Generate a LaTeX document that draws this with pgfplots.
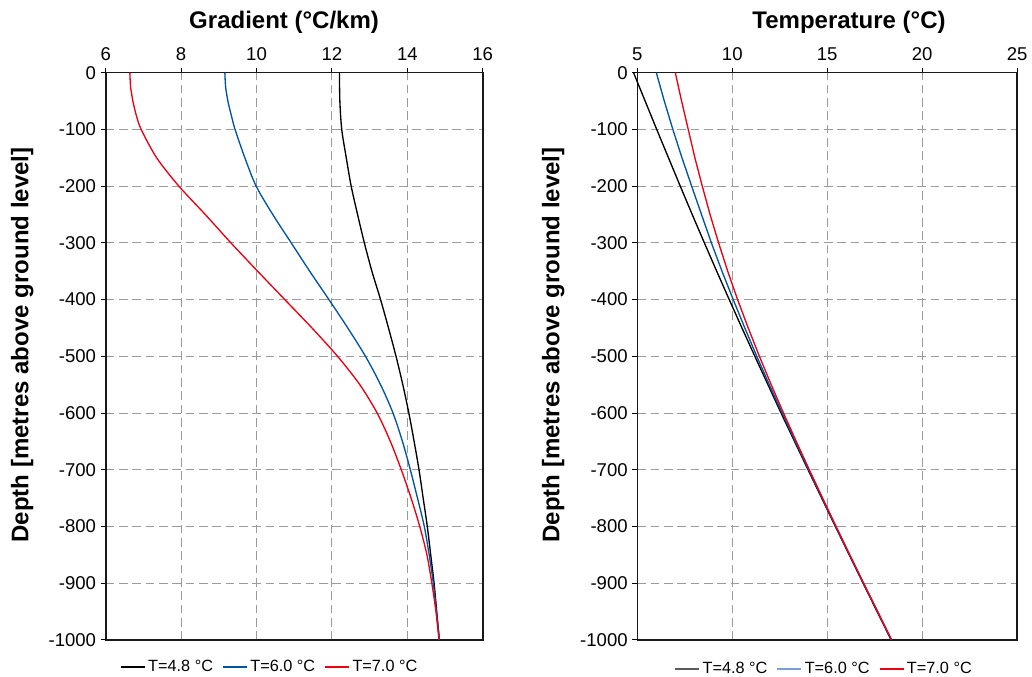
\documentclass[border=0pt]{standalone}
\usepackage{fontspec}
\setmainfont{Liberation Sans}
\usepackage{pgfplots}
\pgfplotsset{compat=1.18}

\definecolor{cblue}{RGB}{0,84,166}
\definecolor{cred}{RGB}{235,0,20}
\definecolor{cgrid}{RGB}{155,155,155}
\definecolor{lgray}{RGB}{90,90,90}
\definecolor{lblue}{RGB}{120,160,215}

\pgfplotsset{
  depthaxis/.style={
    scale only axis,
    height=425.5pt,
    ymin=-1000, ymax=0,
    ytick={-1000,-900,...,0},
    xtick pos=right, xticklabel pos=right,
    ytick pos=left,
    tick align=outside,
    major tick length=3.75pt,
    tick style={black, line width=0.75pt},
    axis line style={black!90, line width=1.2pt},
    grid=major,
    major grid style={cgrid, dash pattern=on 6.5pt off 3.5pt, line width=0.75pt},
    /pgf/number format/assume math mode=true,
    /pgf/number format/1000 sep={},
    ticklabel style={font=\fontsize{13.9}{16}\selectfont},
    xticklabel style={yshift=1.8pt},
    title style={anchor=base, yshift=27.3pt, font=\bfseries\fontsize{18}{21}\selectfont},
    ylabel={Depth [metres above ground level]},
    ylabel style={at={(-0.2053,0.52)}, anchor=base, font=\bfseries\fontsize{18}{21}\selectfont},
    legend columns=3,
    legend cell align=left,
    legend image code/.code={\draw[#1] (0pt,0pt) -- (18pt,0pt);},
    legend style={draw=none, fill=none, anchor=center,
      font=\fontsize{12.2}{14}\selectfont,
      /tikz/every even column/.append style={column sep=5pt}},
    every axis plot/.append style={line width=1pt},
  }
}

\begin{document}
\begin{tikzpicture}
\path[use as bounding box] (0,0) rectangle (774pt,507.75pt);

% Geothermal gradient against depth
\begin{axis}[depthaxis,
  at={(79.3pt,27.75pt)}, anchor=south west,
  width=282.75pt,
  xmin=6, xmax=16, xtick={6,8,...,16},
  title={Gradient (°C/km)},
  title style={at={(0.473,1)}},
  legend style={at={(0.436,-0.0476)}},
]
\addplot[black, smooth] coordinates {
 (12.20,0) (12.21,-50) (12.26,-100) (12.38,-150) (12.51,-200) (12.68,-250)
 (12.86,-300) (13.06,-350) (13.29,-400) (13.50,-450) (13.70,-500) (13.88,-550)
 (14.04,-600) (14.18,-650) (14.31,-700) (14.42,-750) (14.53,-800) (14.62,-850)
 (14.71,-900) (14.78,-950) (14.85,-1000)};
\addlegendentry{T=4.8 °C}
\addplot[cblue, smooth] coordinates {
 (9.16,0) (9.18,-25) (9.24,-50) (9.33,-75) (9.43,-100) (9.69,-150) (9.99,-200) (10.43,-250)
 (10.92,-300) (11.41,-350) (11.92,-400) (12.42,-450) (12.89,-500) (13.29,-550)
 (13.62,-600) (13.87,-650) (14.08,-700) (14.27,-750) (14.45,-800) (14.58,-850)
 (14.69,-900) (14.77,-950) (14.85,-1000)};
\addlegendentry{T=6.0 °C}
\addplot[cred, smooth] coordinates {
 (6.64,0) (6.66,-25) (6.72,-50) (6.81,-75) (6.94,-100) (7.35,-150) (7.94,-200) (8.64,-250)
 (9.32,-300) (10.03,-350) (10.75,-400) (11.47,-450) (12.15,-500) (12.74,-550)
 (13.20,-600) (13.55,-650) (13.84,-700) (14.10,-750) (14.33,-800) (14.52,-850)
 (14.65,-900) (14.76,-950) (14.84,-1000)};
\addlegendentry{T=7.0 °C}
\end{axis}

% Temperature against depth
\begin{axis}[depthaxis,
  at={(478pt,27.75pt)}, anchor=south west,
  width=284.8pt,
  xmin=5, xmax=25, xtick={5,10,...,25},
  clip=false,
  title={Temperature (°C)},
  title style={at={(0.5575,1)}},
  legend style={at={(0.493,-0.051)}},
]
\addlegendimage{lgray}
\addlegendentry{T=4.8 °C}
\addlegendimage{lblue}
\addlegendentry{T=6.0 °C}
\addlegendimage{cred}
\addlegendentry{T=7.0 °C}
\addplot[black, forget plot] coordinates {
 (4.80,0) (5.41,-50) (6.02,-100) (6.64,-150) (7.26,-200) (7.89,-250)
 (8.53,-300) (9.18,-350) (9.84,-400) (10.51,-450) (11.19,-500) (11.88,-550)
 (12.57,-600) (13.28,-650) (13.99,-700) (14.71,-750) (15.43,-800) (16.16,-850)
 (16.89,-900) (17.63,-950) (18.37,-1000)};
\addplot[cblue, forget plot] coordinates {
 (6.00,0) (6.42,-50) (6.87,-100) (7.35,-150) (7.86,-200) (8.38,-250)
 (8.90,-300) (9.46,-350) (10.05,-400) (10.66,-450) (11.29,-500) (11.95,-550)
 (12.63,-600) (13.32,-650) (14.02,-700) (14.73,-750) (15.45,-800) (16.18,-850)
 (16.91,-900) (17.65,-950) (18.38,-1000)};
\addplot[cred, forget plot] coordinates {
 (7.00,0) (7.33,-50) (7.68,-100) (8.03,-150) (8.42,-200) (8.83,-250)
 (9.28,-300) (9.76,-350) (10.28,-400) (10.84,-450) (11.43,-500) (12.05,-550)
 (12.70,-600) (13.37,-650) (14.06,-700) (14.76,-750) (15.47,-800) (16.19,-850)
 (16.92,-900) (17.66,-950) (18.40,-1000)};
\end{axis}
\end{tikzpicture}
\end{document}
